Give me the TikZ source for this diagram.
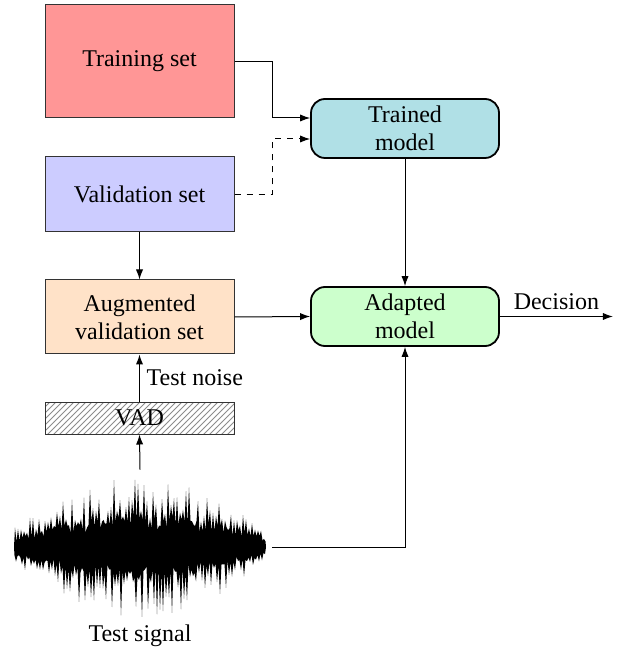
\documentclass[tikz,border=0pt]{standalone}
\usepackage{fontspec}
\setmainfont{Liberation Serif}
\usetikzlibrary{arrows.meta,patterns}
\definecolor{trainc}{RGB}{255,150,150}
\definecolor{valc}{RGB}{204,204,255}
\definecolor{augc}{RGB}{255,226,200}
\definecolor{trainedc}{RGB}{176,224,230}
\definecolor{adaptc}{RGB}{204,255,204}
\begin{document}
\begin{tikzpicture}[x=0.5pt,y=-0.5pt,
  >={Latex[length=5pt,width=3.6pt]},
  every node/.style={font=\fontsize{12}{14}\selectfont},
  setbox/.style={draw=black!80,line width=0.5pt,minimum width=94.5pt,inner sep=0pt,align=center},
  modelbox/.style={draw=black,line width=0.9pt,rounded corners=7pt,minimum width=94pt,minimum height=29.5pt,inner sep=0pt,align=center},
  conn/.style={->,line width=0.5pt}]
\useasboundingbox (0,0) rectangle (623,656);
\node[setbox,fill=trainc,minimum height=56.5pt] (train) at (139.5,61.5) {Training set};
\node[setbox,fill=valc,minimum height=37.5pt] (val) at (139.5,194.5) {Validation set};
\node[setbox,fill=augc,minimum height=37pt] (aug) at (139.5,317) {Augmented\\validation set};
\node[setbox,pattern=north east lines,pattern color=black!45,minimum height=16pt] (vad) at (139.5,418) {};
\node (vadlabel) at (139.5,418) {VAD};
\node[modelbox,fill=trainedc] (trained) at (405,128.5) {Trained\\model};
\node[modelbox,fill=adaptc] (adapted) at (405,316.5) {Adapted\\model};
\node[minimum width=132pt,minimum height=77pt,inner sep=0pt] (sig) at (140,547) {};
\node (siglabel) at (140,636) {Test signal};
% waveform
\pgfmathsetseed{5}
\fill[black] (14,547)
  \foreach \x in {15,18,...,264}{ -- (\x,{547-(20+50*sin((\x-14)/252*180))*(0.3+0.7*rnd)}) -- (\x+1.5,{547-(20+50*sin((\x-14)/252*180))*(0.25+0.2*rnd)}) }
  -- (266,547)
  \foreach \x in {265,262,...,16}{ -- (\x,{547+(20+50*sin((\x-14)/252*180))*(0.3+0.7*rnd)}) -- (\x-1.5,{547+(20+50*sin((\x-14)/252*180))*(0.25+0.2*rnd)}) }
  -- cycle;
% connectors
\coordinate (tin1) at ([yshift=5.25pt]trained.west);
\coordinate (tin2) at ([yshift=-5.25pt]trained.west);
\coordinate (dec) at ([xshift=56.5pt]adapted.east);
\draw[conn] (train.east) -- ++(19pt,0) |- (tin1);
\draw[conn,dashed] (val.east) -- ++(19pt,0) |- (tin2);
\draw[conn] (val.south) -- (aug.north);
\draw[conn] (aug.east) -- (adapted.west);
\draw[conn] (trained.south) -- (adapted.north);
\draw[conn] (adapted.east) -- (dec) node[midway,above] {Decision};
\draw[conn] (sig.east) -| (adapted.south);
\draw[conn] (vad.north) -- (aug.south) node[midway,right] {Test noise};
\draw[conn] (sig.north) -- (vad.south);
\end{tikzpicture}
\end{document}
